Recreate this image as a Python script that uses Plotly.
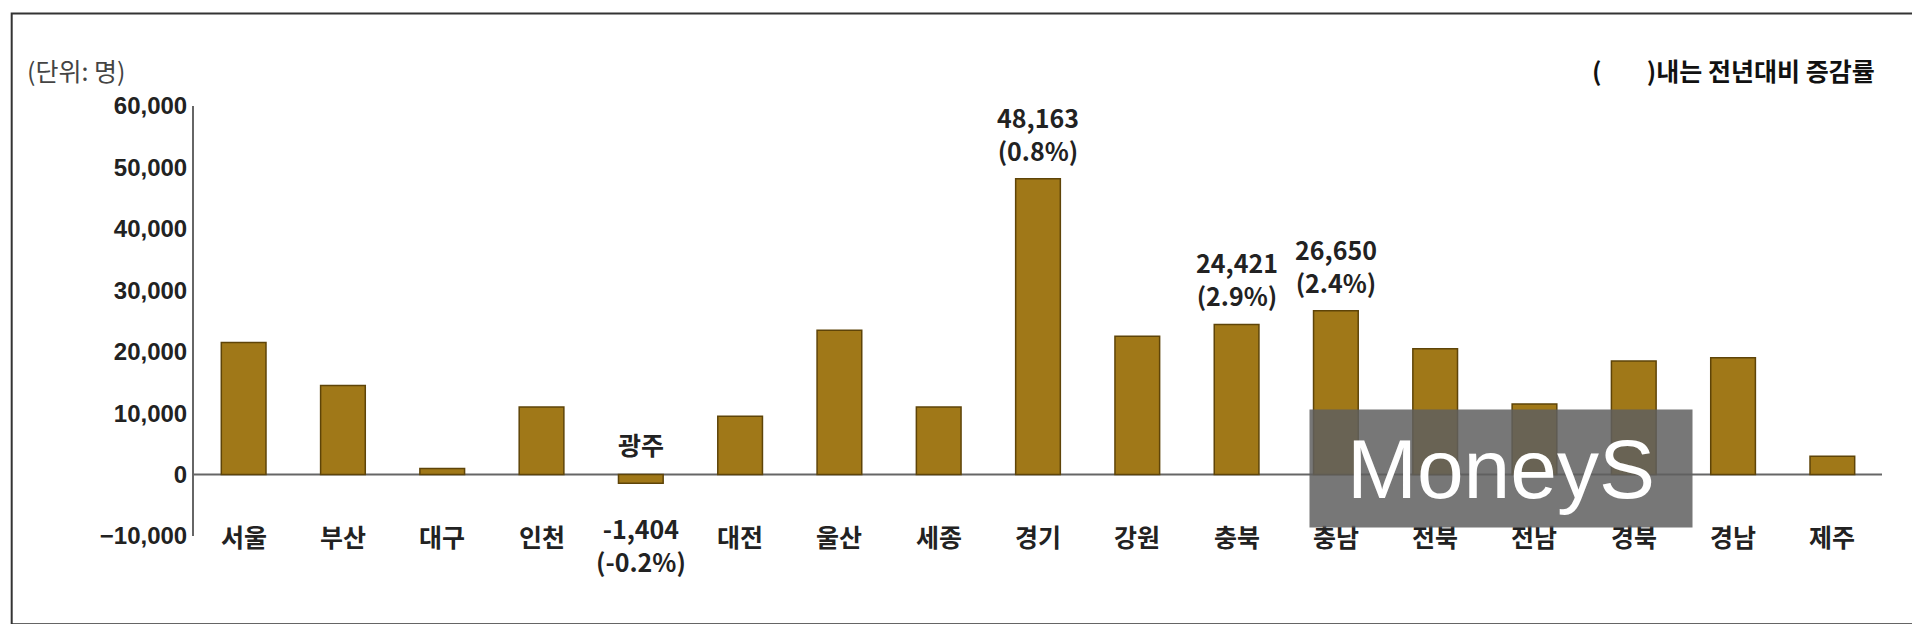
import plotly.graph_objects as go

regions = ["서울", "부산", "대구", "인천", "광주", "대전", "울산", "세종", "경기",
           "강원", "충북", "충남", "전북", "전남", "경북", "경남", "제주"]
values = [21500, 14500, 1000, 11000, -1404, 9500, 23500, 11000, 48163,
          22500, 24421, 26650, 20500, 11500, 18500, 19000, 3000]
labels = {"광주": "-1,404<br>(-0.2%)", "경기": "48,163<br>(0.8%)",
          "충북": "24,421<br>(2.9%)", "충남": "26,650<br>(2.4%)"}
tick_vals = [-10000, 0, 10000, 20000, 30000, 40000, 50000, 60000]

fig = go.Figure(go.Bar(
    x=regions, y=values, width=0.45,
    marker=dict(color="#A07818", line=dict(color="#5E4408", width=1.5)),
))

font = dict(family="Noto Sans CJK KR", size=25, color="#222", weight="bold")
for r, v in zip(regions, values):
    if r == "광주":
        fig.add_annotation(x=r, y=5000, text="<b>광주</b>", showarrow=False, font=font)
        fig.add_annotation(x=r, y=-5500, text="<b>" + labels[r] + "</b>", showarrow=False,
                           yanchor="top", font=font)
        continue
    fig.add_annotation(x=r, y=-10000, text="<b>" + r + "</b>", showarrow=False,
                       yanchor="middle", font=font)
    if r in labels:
        fig.add_annotation(x=r, y=v + 1500, text="<b>" + labels[r] + "</b>", showarrow=False,
                           yanchor="bottom", font=font)

fig.add_annotation(xref="paper", yref="paper", x=-0.1, y=1.13, text="(단위: 명)",
                   showarrow=False, xanchor="left",
                   font=dict(family="Noto Sans CJK KR", size=25, color="#444"))
fig.add_annotation(xref="paper", yref="paper", x=0.997, y=1.13,
                   text="<b>(&nbsp;&nbsp;&nbsp;&nbsp;&nbsp;&nbsp;&nbsp;&nbsp;)내는 전년대비 증감률</b>",
                   showarrow=False, xanchor="right",
                   font=dict(family="Noto Sans CJK KR", size=25, color="#111"))

# zero line
fig.add_shape(type="line", xref="paper", x0=0, x1=1, y0=0, y1=0,
              line=dict(color="#666", width=2), layer="below")
# frame
fig.add_shape(type="rect", xref="paper", yref="paper", x0=-0.108, x1=1.02,
              y0=-0.205, y1=1.215, line=dict(color="#333", width=2), layer="below")
# watermark
fig.add_annotation(xref="paper", yref="paper", x=0.888, y=0.0175, text="MoneyS",
                   showarrow=False, width=380, height=115, bgcolor="rgba(95,95,95,0.85)",
                   font=dict(family="Liberation Sans", size=84, color="white"))

fig.update_layout(
    width=1920, height=624, plot_bgcolor="white", paper_bgcolor="white",
    margin=dict(l=186, r=46, t=98, b=96),
    showlegend=False,
    xaxis=dict(showticklabels=False, showline=False, showgrid=False),
    yaxis=dict(range=[-10000, 60000], tickvals=tick_vals, tickformat=",",
               showgrid=False, zeroline=False, showline=True, linecolor="#666",
               linewidth=2, ticklen=0,
               tickfont=dict(family="Liberation Sans", size=24, color="#222", weight="bold")),
)

fig.write_html("out.html")
